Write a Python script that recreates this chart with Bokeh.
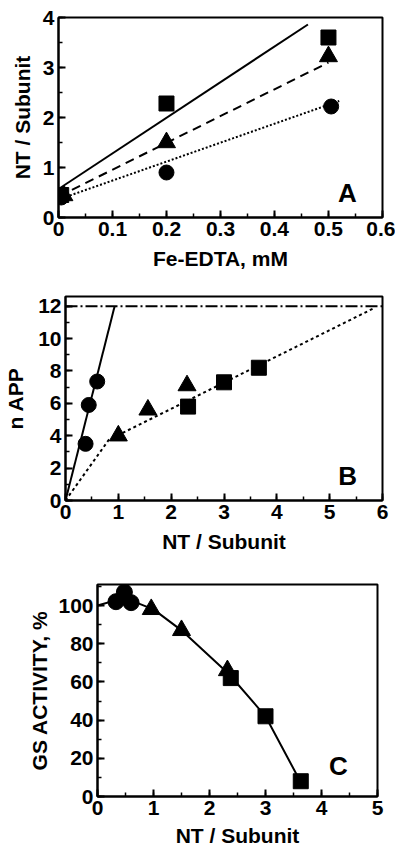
from bokeh.plotting import figure
from bokeh.models import SingleIntervalTicker, Range1d, Label
from bokeh.embed import file_html
from bokeh.resources import INLINE

FONT = "Liberation Sans"

# ---------------- Panel A data ----------------
a_sq_x = [0.005, 0.2, 0.5]
a_sq_y = [0.45, 2.28, 3.60]
a_tri_x = [0.01, 0.2, 0.5]
a_tri_y = [0.44, 1.50, 3.22]
a_cir_x = [0.005, 0.2, 0.505]
a_cir_y = [0.40, 0.90, 2.22]
a_solid_x = [0.0, 0.462]
a_solid_y = [0.57, 3.86]
a_dash_x = [0.0, 0.50]
a_dash_y = [0.42, 3.10]
a_dot_x = [0.0, 0.52]
a_dot_y = [0.36, 2.33]

# ---------------- Panel B data ----------------
b_cir_x = [0.38, 0.44, 0.60]
b_cir_y = [3.5, 5.9, 7.35]
b_tri_x = [1.0, 1.56, 2.3]
b_tri_y = [4.0, 5.6, 7.1]
b_sq_x = [2.32, 3.0, 3.66]
b_sq_y = [5.8, 7.3, 8.2]
b_solid_x = [0.0, 0.93]
b_solid_y = [0.0, 12.0]
b_dot_x = [0.0, 0.82, 5.85]
b_dot_y = [0.0, 3.75, 11.9]
b_max_x = [0.0, 6.0]
b_max_y = [12.0, 12.0]

# ---------------- Panel C data ----------------
c_cir_x = [0.33, 0.48, 0.60]
c_cir_y = [102.0, 107.0, 101.5]
c_tri_x = [0.96, 1.50, 2.32]
c_tri_y = [98.0, 87.0, 66.0]
c_sq_x = [2.38, 3.0, 3.63]
c_sq_y = [62.0, 42.0, 8.0]
c_line_x = [0.0, 0.48, 1.0, 1.5, 2.35, 3.0, 3.62]
c_line_y = [100.0, 104.0, 98.0, 87.0, 64.0, 42.0, 8.0]


def style(p, xint, yint, xlabel, ylabel, ylab_standoff, xlab_standoff):
    p.xaxis.ticker = SingleIntervalTicker(interval=xint, num_minor_ticks=2)
    p.yaxis.ticker = SingleIntervalTicker(interval=yint, num_minor_ticks=2)
    p.xaxis.axis_label = xlabel
    p.yaxis.axis_label = ylabel
    p.xaxis.major_label_overrides = {0: "0"}
    for ax in p.axis:
        ax.major_tick_in = 7
        ax.major_tick_out = 0
        ax.minor_tick_in = 4
        ax.minor_tick_out = 0
        ax.axis_line_width = 2
        ax.major_tick_line_width = 2
        ax.minor_tick_line_width = 1.5
        ax.major_label_text_font = FONT
        ax.major_label_text_font_style = "bold"
        ax.major_label_text_font_size = "21px"
        ax.major_label_text_color = "black"
        ax.major_label_standoff = 4
        ax.axis_label_text_font = FONT
        ax.axis_label_text_font_style = "bold"
        ax.axis_label_text_font_size = "21px"
        ax.axis_label_text_color = "black"
    p.yaxis.axis_label_standoff = ylab_standoff
    p.xaxis.axis_label_standoff = xlab_standoff
    p.grid.visible = False
    p.outline_line_color = "black"
    p.outline_line_width = 2
    p.outline_line_alpha = 1.0
    p.background_fill_color = "white"
    p.border_fill_color = "white"


def panel_label(p, x, y, t):
    p.add_layout(Label(x=x, y=y, text=t, text_font=FONT, text_font_style="bold",
                       text_font_size="26px", text_align="center",
                       text_baseline="middle", text_color="black"))


# ---------------- Panel A ----------------
pa = figure(width=395, height=280, output_backend="svg", toolbar_location=None,
            x_range=Range1d(0, 0.6001), y_range=Range1d(0, 4),
            min_border_left=58, min_border_right=13, min_border_top=17,
            min_border_bottom=63)
pa.line(a_solid_x, a_solid_y, line_color="black", line_width=2)
pa.line(a_dash_x, a_dash_y, line_color="black", line_width=2, line_dash="9 6")
pa.line(a_dot_x, a_dot_y, line_color="black", line_width=2, line_dash="2 2")
pa.scatter(a_sq_x, a_sq_y, marker="square", size=15, color="black")
pa.scatter(a_tri_x, a_tri_y, marker="triangle", size=18, color="black")
pa.scatter(a_cir_x, a_cir_y, marker="circle", size=15, color="black")
style(pa, 0.1, 1, "Fe-EDTA, mM", "NT / Subunit", 6, 8)
panel_label(pa, 0.535, 0.5, "A")

# ---------------- Panel B ----------------
pb = figure(width=395, height=288, output_backend="svg", toolbar_location=None,
            x_range=Range1d(0, 6), y_range=Range1d(0, 12.6),
            min_border_left=65, min_border_right=13, min_border_top=16,
            min_border_bottom=68)
pb.line(b_max_x, b_max_y, line_color="black", line_width=2, line_dash="12 3 2 3")
pb.line(b_solid_x, b_solid_y, line_color="black", line_width=2)
pb.line(b_dot_x, b_dot_y, line_color="black", line_width=2, line_dash="3 3")
pb.scatter(b_cir_x, b_cir_y, marker="circle", size=15, color="black")
pb.scatter(b_tri_x, b_tri_y, marker="triangle", size=18, color="black")
pb.scatter(b_sq_x, b_sq_y, marker="square", size=15, color="black")
style(pb, 1, 2, "NT / Subunit", "n APP", 8, 8)
panel_label(pb, 5.34, 1.5, "B")

# ---------------- Panel C ----------------
pc = figure(width=395, height=281, output_backend="svg", toolbar_location=None,
            x_range=Range1d(0, 5), y_range=Range1d(0, 111),
            min_border_left=97, min_border_right=18, min_border_top=16,
            min_border_bottom=52)
pc.line(c_line_x, c_line_y, line_color="black", line_width=2)
pc.scatter(c_cir_x, c_cir_y, marker="circle", size=16, color="black")
pc.scatter(c_tri_x, c_tri_y, marker="triangle", size=18, color="black")
pc.scatter(c_sq_x, c_sq_y, marker="square", size=15, color="black")
style(pc, 1, 20, "NT / Subunit", "GS ACTIVITY, %", 4, 6)
panel_label(pc, 4.3, 16, "C")

open("out.html", "w").write(file_html([pa, pb, pc], INLINE))
